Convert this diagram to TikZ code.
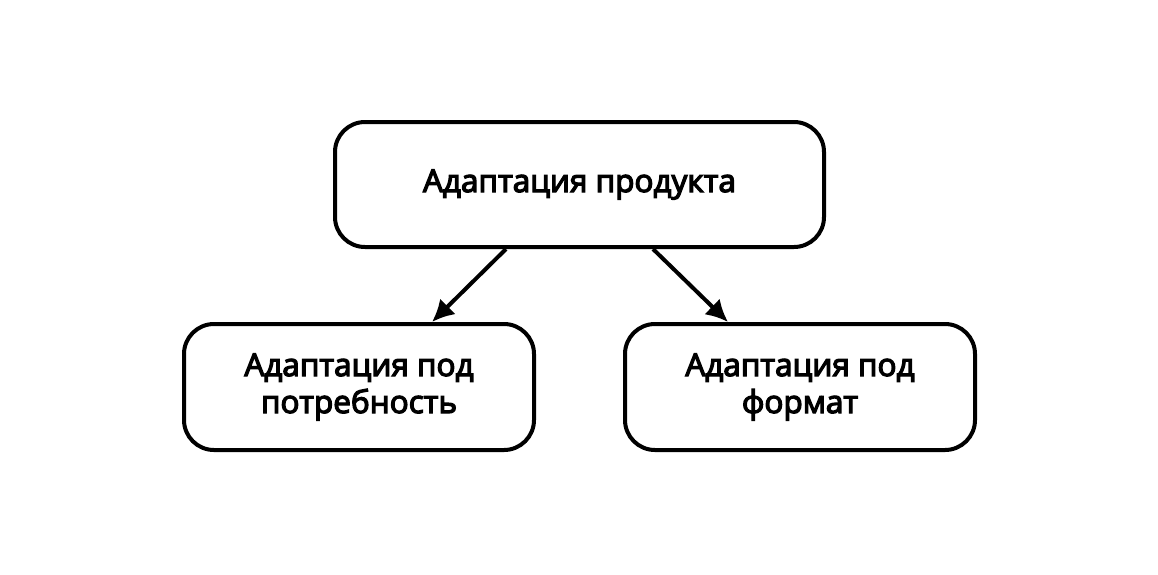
\documentclass[tikz,border=0pt]{standalone}
\usepackage{fontspec}
\newfontfamily\boxfont{Open Sans}[FakeBold=4]
\usetikzlibrary{arrows.meta}

\begin{document}
\begin{tikzpicture}[x=1pt,y=-1pt,
    block/.style={draw,line width=4pt,rounded corners=30pt,align=center,
      font=\boxfont\fontsize{31.5}{37}\selectfont,inner sep=0pt},
    arr/.style={line width=4pt,-{Latex[length=22pt,width=22pt]}}]
  \useasboundingbox (0,0) rectangle (1158,574);
  \node[block,minimum width=489pt,minimum height=125pt] (prod) at (579.5,184.5) {Адаптация продукта};
  \node[block,minimum width=350pt,minimum height=126pt] (need) at (359,387) {Адаптация под\\потребность};
  \node[block,minimum width=350pt,minimum height=126pt] (form) at (800,387) {Адаптация под\\формат};
  \draw[arr] ([xshift=-73.5pt]prod.south) -- ([xshift=73pt]need.north);
  \draw[arr] ([xshift=73.5pt]prod.south) -- ([xshift=-72pt]form.north);
\end{tikzpicture}
\end{document}
